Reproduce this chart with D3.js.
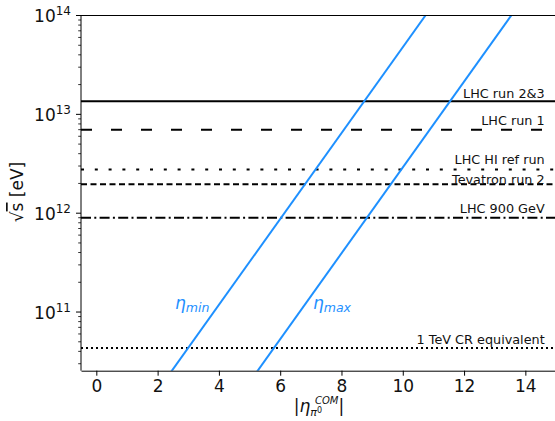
<!DOCTYPE html>
<html>
<head>
<meta charset="utf-8">
<script src="https://cdn.jsdelivr.net/npm/d3@7"></script>
<style>
  body { margin: 0; background: #fff; }
  svg { font-family: "DejaVu Sans", sans-serif; }
</style>
</head>
<body>
<svg id="chart" width="555" height="421"></svg>
<script>
// reference energies (sqrt s in eV)
const refNames = ["LHC run 2&3", "LHC run 1", "LHC HI ref run", "Tevatron run 2", "LHC 900 GeV", "1 TeV CR equivalent"];
const refValues = [13.6e12, 7e12, 2.76e12, 1.96e12, 0.9e12, 4.33e10];

// eta lines, endpoints
const etaMinEta = [1.53, 10.74];
const etaMinS = [1e10, 1e14];
const etaMaxEta = [4.33, 13.54];
const etaMaxS = [1e10, 1e14];

const xTicks = [0, 2, 4, 6, 8, 10, 12, 14];
const yExps = [11, 12, 13, 14];

const mLeft = 81, mRight = 556, mTop = 15.5, mBottom = 370.7;

const svg = d3.select("#chart");

const x = d3.scaleLinear().domain([-0.5, 15]).range([mLeft, mRight]);
const y = d3.scaleLog().domain([2.55e10, 1e14]).range([mBottom, mTop]);

// styles for the reference lines
const dashes = ["", "11,19", "3,10.8", "6,3.5", "10,3.3,2,3.3", "2,3"];
const labelDy = [-3.5, -5, -6, -0.5, -5, -3.7];

svg.append("clipPath").attr("id", "plotclip")
    .append("rect")
    .attr("x", mLeft).attr("y", mTop)
    .attr("width", mRight - mLeft).attr("height", mBottom - mTop);

const plot = svg.append("g").attr("clip-path", "url(#plotclip)");

// horizontal lines
refValues.forEach((v, i) => {
    plot.append("line")
        .attr("x1", mLeft).attr("x2", mRight)
        .attr("y1", y(v)).attr("y2", y(v))
        .attr("stroke", "black")
        .attr("stroke-width", 2)
        .attr("stroke-dasharray", dashes[i] || null);
});

// eta lines
const line = d3.line().x(d => x(d[0])).y(d => y(d[1]));
[[etaMinEta, etaMinS], [etaMaxEta, etaMaxS]].forEach(([e, s]) => {
    plot.append("path")
        .attr("d", line(e.map((v, i) => [v, s[i]])))
        .attr("fill", "none")
        .attr("stroke", "#1e90ff")
        .attr("stroke-width", 2);
});

// labels of the reference lines
refNames.forEach((n, i) => {
    svg.append("text")
        .attr("x", x(14.63))
        .attr("y", y(refValues[i]) + labelDy[i])
        .attr("text-anchor", "end")
        .attr("font-size", 12.8)
        .attr("fill", "#111")
        .text(n);
});

// eta labels
const etaLabel = (px, py, sub) => {
    const t = svg.append("text")
        .attr("x", px).attr("y", py)
        .attr("fill", "#1e90ff")
        .attr("font-style", "italic")
        .attr("font-size", 17);
    t.append("tspan").text("η");
    t.append("tspan").attr("font-size", 12.5).attr("dy", 3).text(sub);
};
etaLabel(x(2.57), 309, "min");
etaLabel(x(7.07), 309, "max");

// axes frame
svg.append("line").attr("x1", mLeft).attr("x2", mLeft).attr("y1", mTop).attr("y2", mBottom)
    .attr("stroke", "black").attr("stroke-width", 1);
svg.append("line").attr("x1", mLeft).attr("x2", mRight).attr("y1", mTop).attr("y2", mTop)
    .attr("stroke", "black").attr("stroke-width", 1);

// x axis
const xAxis = svg.append("g")
    .attr("transform", `translate(0,${mBottom})`)
    .call(d3.axisBottom(x).tickValues(xTicks).tickSize(5).tickPadding(4).tickSizeOuter(0));
xAxis.select(".domain").attr("stroke-width", 1);
xAxis.selectAll("text").attr("font-size", 17).attr("fill", "#111")
    .attr("font-family", "DejaVu Sans");

// y axis: minor ticks
const minor = [];
for (let e = 10; e <= 13; e++) {
    for (let m = 2; m <= 9; m++) {
        const v = m * Math.pow(10, e);
        if (v >= 2.55e10 && v <= 1e14) minor.push(v);
    }
}
svg.append("g").selectAll("line").data(minor).join("line")
    .attr("x1", mLeft - 2.8).attr("x2", mLeft)
    .attr("y1", d => y(d)).attr("y2", d => y(d))
    .attr("stroke", "black").attr("stroke-width", 0.8);

const yg = svg.append("g");
yExps.forEach(e => {
    const yy = y(Math.pow(10, e));
    yg.append("line")
        .attr("x1", mLeft - 5).attr("x2", mLeft)
        .attr("y1", yy).attr("y2", yy)
        .attr("stroke", "black").attr("stroke-width", 1);
    const t = yg.append("text")
        .attr("x", 71).attr("y", yy + 6.7)
        .attr("text-anchor", "end")
        .attr("font-size", 17).attr("fill", "#111");
    t.append("tspan").text("10");
    t.append("tspan").attr("font-size", 12).attr("dy", -7.2).text(e);
});

// y label
const yl = svg.append("text")
    .attr("transform", "translate(23,192) rotate(-90)")
    .attr("text-anchor", "middle")
    .attr("font-size", 17).attr("fill", "#111");
yl.append("tspan").text("√");
yl.append("tspan").style("text-decoration", "overline").text("s");
yl.append("tspan").text(" [eV]");

// x label
const xl = svg.append("text")
    .attr("x", 319).attr("y", 412)
    .attr("text-anchor", "middle")
    .attr("font-size", 17).attr("fill", "#111");
xl.append("tspan").text("|");
xl.append("tspan").attr("font-style", "italic").text("η");
xl.append("tspan").attr("font-style", "italic").attr("font-size", 11).attr("dy", 4).text("π");
xl.append("tspan").attr("font-size", 8).attr("dy", -3).text("0");
xl.append("tspan").attr("font-style", "italic").attr("font-size", 10).attr("dx", -7).attr("dy", -9).text("COM");
xl.append("tspan").attr("dy", 8).text("|");
</script>
</body>
</html>
